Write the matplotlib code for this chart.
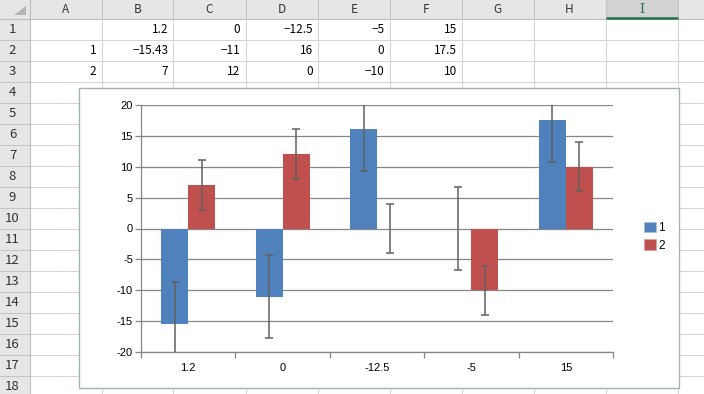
import matplotlib
matplotlib.use('Agg')
import matplotlib.pyplot as plt
from matplotlib.patches import Rectangle, Polygon, Patch

plt.rcParams['axes.unicode_minus'] = False

# ---------------- data ----------------
categories = ['1.2', '0', '-12.5', '-5', '15']
series_names = ['1', '2']
series1 = [-15.43, -11, 16, 0, 17.5]
series2 = [7, 12, 0, -10, 10]
series1_err = [6.75, 6.75, 6.75, 6.75, 6.75]
series2_err = [4.0, 4.0, 4.0, 4.0, 4.0]
yticks = [-20, -15, -10, -5, 0, 5, 10, 15, 20]

row1_cells = ['', '1.2', '0', '−12.5', '−5', '15']
row2_cells = ['1', '−15.43', '−11', '16', '0', '17.5']
row3_cells = ['2', '7', '12', '0', '−10', '10']
col_letters = ['A', 'B', 'C', 'D', 'E', 'F', 'G', 'H', 'I']

# ---------------- figure / sheet ----------------
W, H = 704, 394
fig = plt.figure(figsize=(7.04, 3.94), dpi=100)
sheet = fig.add_axes([0, 0, 1, 1])
sheet.set_xlim(0, W)
sheet.set_ylim(H, 0)
sheet.axis('off')

cell_font = ['Noto Sans CJK JP', 'DejaVu Sans']
col_edges = [29.5, 101.5, 173.3, 245.5, 318, 389.5, 461.7, 533.5, 605.5, 677.5, 749.5]
hdr_h = 18.7
row_h = 21.0
n_rows = 18

# header backgrounds
sheet.add_patch(Rectangle((0, 0), W, hdr_h, facecolor='#e6e6e6', edgecolor='none', zorder=1))
sheet.add_patch(Rectangle((0, hdr_h), col_edges[0], H, facecolor='#e6e6e6', edgecolor='none', zorder=1))
# selected column I
sheet.add_patch(Rectangle((col_edges[8], 0), col_edges[9] - col_edges[8], hdr_h,
                          facecolor='#d2d2d2', edgecolor='none', zorder=1.5))
sheet.plot([col_edges[8], col_edges[9]], [hdr_h - 1.2, hdr_h - 1.2], color='#217346', lw=1.8, zorder=3,
           solid_capstyle='butt')
# corner triangle
sheet.add_patch(Polygon([[26, 6], [26, 15], [14, 15]], closed=True, facecolor='#b4b4b4', edgecolor='none', zorder=2))

# grid lines of the cells
for x in col_edges:
    sheet.plot([x, x], [hdr_h, H], color='#d4d4d4', lw=0.75, zorder=1.2)
    sheet.plot([x, x], [0, hdr_h], color='#c6c6c6', lw=0.75, zorder=2)
for r in range(n_rows + 1):
    y = hdr_h + r * row_h
    sheet.plot([col_edges[0], W], [y, y], color='#d4d4d4', lw=0.75, zorder=1.2)
    sheet.plot([0, col_edges[0]], [y, y], color='#c6c6c6', lw=0.75, zorder=2)
sheet.plot([0, W], [hdr_h, hdr_h], color='#bdbdbd', lw=0.75, zorder=2.5)
sheet.plot([col_edges[0], col_edges[0]], [0, H], color='#bdbdbd', lw=0.75, zorder=2.5)

# column letters
for i, c in enumerate(col_letters):
    xc = (col_edges[i] + col_edges[i + 1]) / 2
    if c == 'I':
        sheet.text(xc, hdr_h / 2 + 0.5, c, ha='center', va='center', fontsize=9,
                   family='DejaVu Serif', color='#217346', zorder=4)
    else:
        sheet.text(xc, hdr_h / 2 + 0.5, c, ha='center', va='center', fontsize=8.5,
                   family=cell_font, color='#333333', zorder=4)
# row numbers
for r in range(1, n_rows + 1):
    yc = hdr_h + (r - 0.5) * row_h
    sheet.text(12.5, yc + 0.5, str(r), ha='center', va='center', fontsize=9.5,
               family=cell_font, color='#333333', zorder=4)
# cell values
for r, cells in enumerate([row1_cells, row2_cells, row3_cells]):
    yc = hdr_h + (r + 0.5) * row_h
    for i, v in enumerate(cells):
        if v:
            sheet.text(col_edges[i + 1] - 5, yc + 0.5, v, ha='right', va='center', fontsize=8.5,
                       family=cell_font, color='black', zorder=4)

# chart area
cx0, cy0, cx1, cy1 = 79.3, 88.3, 679.3, 388.3
sheet.add_patch(Rectangle((cx0, cy0), cx1 - cx0, cy1 - cy0, facecolor='white',
                          edgecolor='#9fb3b0', lw=1.0, zorder=10))

# ---------------- chart ----------------
px_l, px_r, px_t, px_b = 141, 613, 104.7, 352.3
ax = fig.add_axes([px_l / W, 1 - px_b / H, (px_r - px_l) / W, (px_b - px_t) / H])
ax.set_facecolor('none')
n = len(categories)
ax.set_xlim(0, n)
ax.set_ylim(-20, 20)

blue = '#4f81bd'
red = '#c0504d'
grid_c = '#868686'
bw = 0.286
xs = [i + 0.5 for i in range(n)]
x1 = [x - bw / 2 for x in xs]
x2 = [x + bw / 2 for x in xs]

for y in yticks:
    ax.axhline(y, color=grid_c, lw=0.9, zorder=1)

ax.bar(x1, series1, width=bw, color=blue, linewidth=0, zorder=2)
ax.bar(x2, series2, width=bw, color=red, linewidth=0, zorder=2)
ax.errorbar(x1, series1, yerr=series1_err, fmt='none', ecolor='#606060', elinewidth=1.1,
            capsize=3, capthick=1.1, zorder=3)
ax.errorbar(x2, series2, yerr=series2_err, fmt='none', ecolor='#606060', elinewidth=1.1,
            capsize=3, capthick=1.1, zorder=3)

for s in ['top', 'right']:
    ax.spines[s].set_visible(False)
for s in ['left', 'bottom']:
    ax.spines[s].set_color(grid_c)
    ax.spines[s].set_linewidth(0.9)

ax.set_yticks(yticks)
ax.set_yticklabels([str(v) for v in yticks])
ax.tick_params(axis='y', length=4.3, width=0.9, color=grid_c, pad=1.5, labelsize=8)
ax.set_xticks(range(n + 1))
ax.set_xticklabels([])
ax.set_xticks(xs, minor=True)
ax.set_xticklabels(categories, minor=True)
ax.tick_params(axis='x', which='major', length=4.3, width=0.9, color=grid_c)
ax.tick_params(axis='x', which='minor', length=0, pad=7.5, labelsize=8)
for lab in ax.get_xticklabels(minor=True) + ax.get_yticklabels():
    lab.set_family(['Liberation Sans', 'DejaVu Sans'])

handles = [Patch(facecolor=blue, edgecolor='#a9c1de', lw=0.6),
           Patch(facecolor=red, edgecolor='#dba09f', lw=0.6)]
fig.legend(handles, series_names, loc='upper left', bbox_to_anchor=(643.5 / W, 1 - 221.5 / H),
           frameon=False, fontsize=8, handlelength=1.05, handleheight=1.05, handletextpad=0.2,
           labelspacing=0.45, borderpad=0, borderaxespad=0,
           prop={'family': ['Liberation Sans', 'DejaVu Sans'], 'size': 8.5})

fig.savefig('out.png', dpi=100)
